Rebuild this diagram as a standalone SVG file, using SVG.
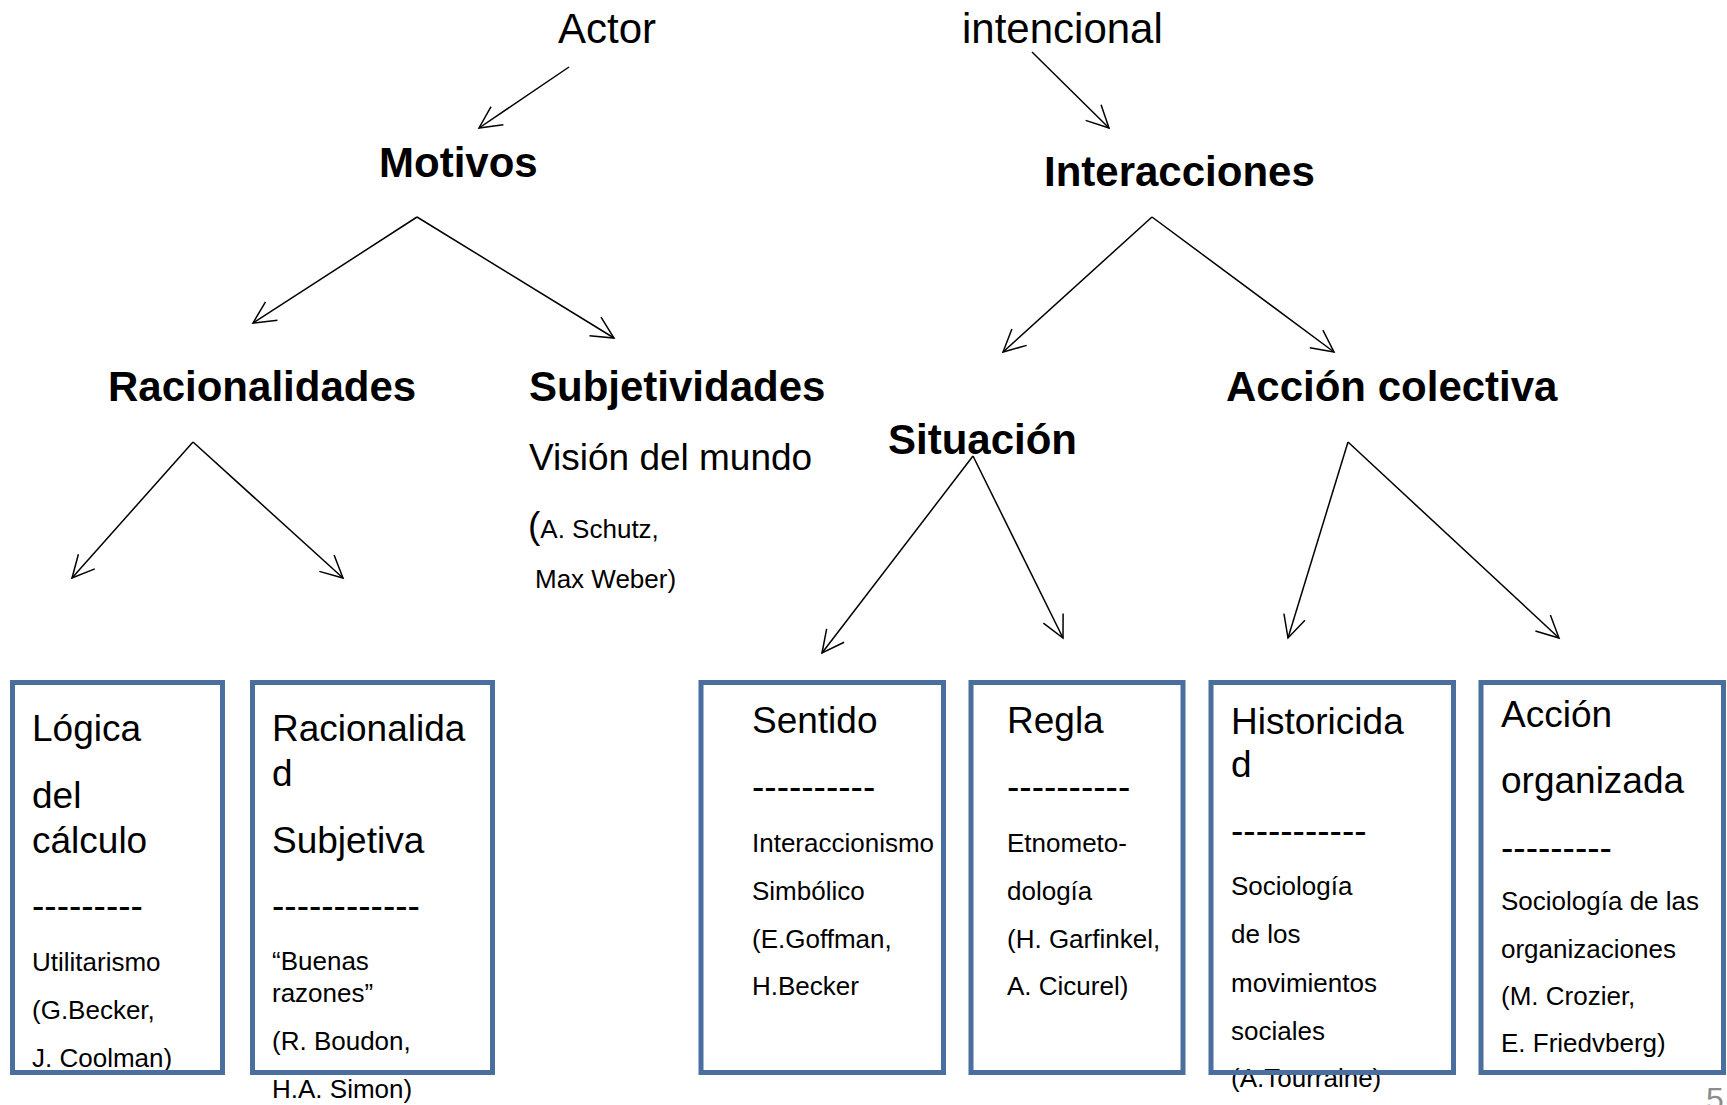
<svg xmlns="http://www.w3.org/2000/svg" width="1727" height="1105" viewBox="0 0 1727 1105">
<style>
text{font-family:"Liberation Sans",Arial,sans-serif;fill:#000}
.h{font-size:42px}
.b{font-size:42px;font-weight:bold}
.t{font-size:37px}
.s{font-size:26px}
.box{fill:none;stroke:#4A6F9E;stroke-width:5}
.c line{stroke:#000;stroke-width:1.5;marker-end:url(#ah)}
</style>
<defs>
<marker id="ah" markerUnits="userSpaceOnUse" orient="auto" markerWidth="30" markerHeight="30" viewBox="-26 -15 30 30" refX="0" refY="0" overflow="visible">
<path d="M-22,-11 L0,0 L-22,11" fill="none" stroke="#000" stroke-width="1.5"/>
</marker>
</defs>
<rect width="1727" height="1105" fill="#fff"/>

<g id="actor"><text class="h" x="558" y="43">Actor</text></g>
<g id="intencional"><text class="h" x="962" y="43">intencional</text></g>
<g id="motivos"><text class="b" x="379" y="177">Motivos</text></g>
<g id="interacciones"><text class="b" x="1044" y="186">Interacciones</text></g>
<g id="racionalidades"><text class="b" x="108" y="401">Racionalidades</text></g>
<g id="subjetividades">
<text class="b" x="529" y="401">Subjetividades</text>
<text x="529" y="470" style="font-size:37px">Visión del mundo</text>
<text x="528" y="538"><tspan style="font-size:37px">(</tspan><tspan class="s">A. Schutz,</tspan></text>
<text class="s" x="535" y="588">Max Weber)</text>
</g>
<g id="accion-colectiva"><text class="b" x="1226" y="401">Acción colectiva</text></g>
<g id="situacion"><text class="b" x="888" y="454">Situación</text></g>

<g id="logica">
<text class="t" x="32" y="741">Lógica</text>
<text class="t" x="32" y="808">del</text>
<text class="t" x="32" y="853">cálculo</text>
<text class="t" x="32" y="918">---------</text>
<text class="s" x="32" y="971">Utilitarismo</text>
<text class="s" x="32" y="1019">(G.Becker,</text>
<text class="s" x="32" y="1067">J. Coolman)</text>
<rect class="box" x="12.5" y="682.5" width="210" height="390"/>
</g>
<g id="racionalidad-subjetiva">
<text class="t" x="272" y="741">Racionalida</text>
<text class="t" x="272" y="786">d</text>
<text class="t" x="272" y="853">Subjetiva</text>
<text class="t" x="272" y="918">------------</text>
<text class="s" x="272" y="970">“Buenas</text>
<text class="s" x="272" y="1002">razones”</text>
<text class="s" x="272" y="1050">(R. Boudon,</text>
<text class="s" x="272" y="1098">H.A. Simon)</text>
<rect class="box" x="252.5" y="682.5" width="240" height="390"/>
</g>
<g id="sentido">
<text class="t" x="752" y="733">Sentido</text>
<text class="t" x="752" y="799">----------</text>
<text class="s" x="752" y="852">Interaccionismo</text>
<text class="s" x="752" y="900">Simbólico</text>
<text class="s" x="752" y="948">(E.Goffman,</text>
<text class="s" x="752" y="995">H.Becker</text>
<rect class="box" x="701" y="682.5" width="242.5" height="390"/>
</g>
<g id="regla">
<text class="t" x="1007" y="733">Regla</text>
<text class="t" x="1007" y="799">----------</text>
<text class="s" x="1007" y="852">Etnometo-</text>
<text class="s" x="1007" y="900">dología</text>
<text class="s" x="1007" y="948">(H. Garfinkel,</text>
<text class="s" x="1007" y="995">A. Cicurel)</text>
<rect class="box" x="971" y="682.5" width="212" height="390"/>
</g>
<g id="historicidad">
<text class="t" x="1231" y="734">Historicida</text>
<text class="t" x="1231" y="777">d</text>
<text class="t" x="1231" y="843">-----------</text>
<text class="s" x="1231" y="895">Sociología</text>
<text class="s" x="1231" y="943">de los</text>
<text class="s" x="1231" y="992">movimientos</text>
<text class="s" x="1231" y="1040">sociales</text>
<text class="s" x="1231" y="1087">(A.Tourraine)</text>
<rect class="box" x="1211" y="682.5" width="242.5" height="390"/>
</g>
<g id="accion-organizada">
<text class="t" x="1501" y="727">Acción</text>
<text class="t" x="1501" y="793">organizada</text>
<text class="t" x="1501" y="860">---------</text>
<text class="s" x="1501" y="910">Sociología de las</text>
<text class="s" x="1501" y="958">organizaciones</text>
<text class="s" x="1501" y="1005">(M. Crozier,</text>
<text class="s" x="1501" y="1052">E. Friedvberg)</text>
<rect class="box" x="1481" y="682.5" width="242.5" height="390"/>
</g>

<g id="page-number"><text x="1706" y="1110" style="font-size:32px;fill:#8c8c8c">5</text></g>

<g id="connectors" class="c">
<line x1="569" y1="67" x2="479" y2="128"/>
<line x1="1032" y1="52" x2="1109" y2="128"/>
<line x1="417" y1="217" x2="253" y2="323"/>
<line x1="417" y1="217" x2="614" y2="338"/>
<line x1="1152" y1="217" x2="1003" y2="352"/>
<line x1="1152" y1="217" x2="1334" y2="352"/>
<line x1="193" y1="442" x2="72" y2="578"/>
<line x1="193" y1="442" x2="343" y2="578"/>
<line x1="973" y1="456" x2="822" y2="653"/>
<line x1="973" y1="456" x2="1063" y2="638"/>
<line x1="1348" y1="442" x2="1288" y2="638"/>
<line x1="1348" y1="442" x2="1559" y2="638"/>
</g>
</svg>
